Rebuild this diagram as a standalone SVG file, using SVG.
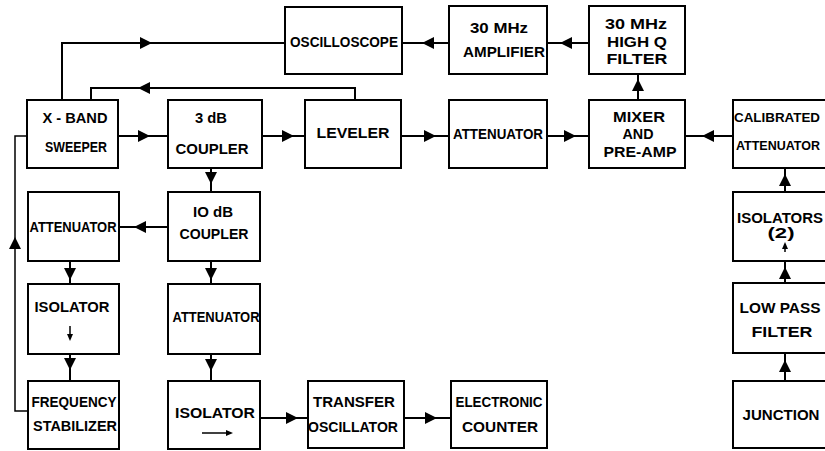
<svg xmlns="http://www.w3.org/2000/svg" width="825" height="451" viewBox="0 0 825 451">
<style>
.box{fill:#fff;stroke:#000;stroke-width:2}
.ln{fill:none;stroke:#000;stroke-width:2}
.ln1{fill:none;stroke:#000;stroke-width:1.5}
text{font-family:"Liberation Sans",Arial,sans-serif;font-weight:bold;font-size:14px;fill:#000;text-anchor:middle}
text.edge{font-size:12.5px;text-anchor:start}
</style>
<defs>
<path id="ah" d="M-6,-6 L6,0 L-6,6 Z" fill="#000"/>
<path id="sah" d="M-4,-3 L3,0 L-4,3 Z" fill="#000"/>
</defs>
<rect width="825" height="451" fill="#fff"/>
<g id="connectors">
<path class="ln" d="M62,100 V43 H285"/>
<path class="ln" d="M402,43 H449"/>
<path class="ln" d="M547,43 H589"/>
<path class="ln" d="M355,100 V88 H91 V100"/>
<path class="ln" d="M118,136 H168 M262,136 H305 M401,136 H449 M547,136 H589 M685,136 H733"/>
<path class="ln" d="M638,100 V74"/>
<path class="ln" d="M211,168 V192"/>
<path class="ln" d="M168,227 H119"/>
<path class="ln1" d="M27,136 H15 V411 H28"/>
<path class="ln" d="M70,261 V284 M70,354 V381 M211,261 V284 M211,354 V381"/>
<path class="ln" d="M260,418 H308 M404,418 H451"/>
<path class="ln" d="M785,168 V192 M785,261 V283 M785,353 V381"/>
<use href="#ah" transform="translate(146,43)"/>
<use href="#ah" transform="translate(428,43) rotate(180)"/>
<use href="#ah" transform="translate(566,43) rotate(180)"/>
<use href="#ah" transform="translate(144,88) rotate(180)"/>
<use href="#ah" transform="translate(144,136)"/>
<use href="#ah" transform="translate(288,136)"/>
<use href="#ah" transform="translate(430,136)"/>
<use href="#ah" transform="translate(570,136)"/>
<use href="#ah" transform="translate(708,136) rotate(180)"/>
<use href="#ah" transform="translate(638,85) rotate(-90)"/>
<use href="#ah" transform="translate(785,180) rotate(-90)"/>
<use href="#ah" transform="translate(785,273) rotate(-90)"/>
<use href="#ah" transform="translate(785,366) rotate(-90)"/>
<use href="#ah" transform="translate(211,178) rotate(90)"/>
<use href="#ah" transform="translate(140,227) rotate(180)"/>
<use href="#ah" transform="translate(15,243) rotate(-90)"/>
<use href="#ah" transform="translate(70,274) rotate(90)"/>
<use href="#ah" transform="translate(70,364) rotate(90)"/>
<use href="#ah" transform="translate(211,274) rotate(90)"/>
<use href="#ah" transform="translate(211,365) rotate(90)"/>
<use href="#ah" transform="translate(292,418)"/>
<use href="#ah" transform="translate(431,418)"/>
</g>
<g id="oscilloscope"><rect class="box" x="285" y="7" width="117" height="67"/><text x="344" y="47" textLength="108" lengthAdjust="spacingAndGlyphs">OSCILLOSCOPE</text></g>
<g id="amplifier"><rect class="box" x="449" y="6" width="98" height="68"/><text x="499" y="33" textLength="58" lengthAdjust="spacingAndGlyphs">30 MHz</text><text x="504" y="57" textLength="82" lengthAdjust="spacingAndGlyphs">AMPLIFIER</text></g>
<g id="filter30"><rect class="box" x="589" y="6" width="96" height="68"/><text x="636" y="29" textLength="62" lengthAdjust="spacingAndGlyphs">30 MHz</text><text x="637" y="47" textLength="60" lengthAdjust="spacingAndGlyphs">HIGH  Q</text><text x="637" y="64" textLength="61" lengthAdjust="spacingAndGlyphs">FILTER</text></g>
<g id="sweeper"><rect class="box" x="27" y="100" width="91" height="68"/><text x="75" y="123" textLength="65" lengthAdjust="spacingAndGlyphs">X - BAND</text><text x="76" y="152" textLength="62" lengthAdjust="spacingAndGlyphs">SWEEPER</text></g>
<g id="coupler3"><rect class="box" x="168" y="100" width="94" height="68"/><text x="211" y="123" textLength="32" lengthAdjust="spacingAndGlyphs">3 dB</text><text x="212" y="154" textLength="73" lengthAdjust="spacingAndGlyphs">COUPLER</text></g>
<g id="leveler"><rect class="box" x="305" y="100" width="96" height="68"/><text x="353" y="138" textLength="73" lengthAdjust="spacingAndGlyphs">LEVELER</text></g>
<g id="attenuator-top"><rect class="box" x="449" y="100" width="98" height="68"/><text x="498" y="139" textLength="90" lengthAdjust="spacingAndGlyphs">ATTENUATOR</text></g>
<g id="mixer"><rect class="box" x="589" y="100" width="96" height="68"/><text x="639" y="122" textLength="52" lengthAdjust="spacingAndGlyphs">MIXER</text><text x="638" y="139" textLength="31" lengthAdjust="spacingAndGlyphs">AND</text><text x="640" y="157" textLength="73" lengthAdjust="spacingAndGlyphs">PRE-AMP</text></g>
<g id="calibrated"><rect class="box" x="733" y="100" width="96" height="68"/><text class="edge" x="734" y="122" textLength="86" lengthAdjust="spacingAndGlyphs">CALIBRATED</text><text class="edge" x="736" y="150" textLength="84" lengthAdjust="spacingAndGlyphs">ATTENUATOR</text></g>
<g id="coupler10"><rect class="box" x="168" y="192" width="92" height="69"/><text x="213" y="217" textLength="40" lengthAdjust="spacingAndGlyphs">IO dB</text><text x="214" y="239" textLength="69" lengthAdjust="spacingAndGlyphs">COUPLER</text></g>
<g id="attenuator-left"><rect class="box" x="28" y="192" width="91" height="69"/><text x="73" y="232" textLength="87" lengthAdjust="spacingAndGlyphs">ATTENUATOR</text></g>
<g id="isolators2"><rect class="box" x="733" y="192" width="96" height="69"/><text x="780" y="223" textLength="86" lengthAdjust="spacingAndGlyphs">ISOLATORS</text><text x="781" y="238" textLength="27" lengthAdjust="spacingAndGlyphs">(2)</text><path class="ln1" d="M785,252 V246"/><use href="#sah" transform="translate(785,245) rotate(-90)"/></g>
<g id="isolator-left"><rect class="box" x="28" y="284" width="91" height="70"/><text x="72" y="312" textLength="75" lengthAdjust="spacingAndGlyphs">ISOLATOR</text><path class="ln1" d="M70,326 V336"/><use href="#sah" transform="translate(70,338) rotate(90)"/></g>
<g id="attenuator-mid"><rect class="box" x="168" y="284" width="92" height="70"/><text x="216" y="322" textLength="87" lengthAdjust="spacingAndGlyphs">ATTENUATOR</text></g>
<g id="lowpass"><rect class="box" x="733" y="283" width="96" height="70"/><text x="780" y="313" textLength="81" lengthAdjust="spacingAndGlyphs">LOW PASS</text><text x="782" y="337" textLength="61" lengthAdjust="spacingAndGlyphs">FILTER</text></g>
<g id="stabilizer"><rect class="box" x="28" y="381" width="91" height="68"/><text x="74" y="407" textLength="85" lengthAdjust="spacingAndGlyphs">FREQUENCY</text><text x="75" y="431" textLength="84" lengthAdjust="spacingAndGlyphs">STABILIZER</text></g>
<g id="isolator-mid"><rect class="box" x="168" y="381" width="92" height="68"/><text x="215" y="418" textLength="80" lengthAdjust="spacingAndGlyphs">ISOLATOR</text><path class="ln1" d="M202,433 H228"/><use href="#sah" transform="translate(230,433)"/></g>
<g id="transfer"><rect class="box" x="308" y="381" width="96" height="67"/><text x="354" y="407" textLength="82" lengthAdjust="spacingAndGlyphs">TRANSFER</text><text x="353" y="432" textLength="90" lengthAdjust="spacingAndGlyphs">OSCILLATOR</text></g>
<g id="counter"><rect class="box" x="451" y="381" width="96" height="67"/><text x="499" y="407" textLength="87" lengthAdjust="spacingAndGlyphs">ELECTRONIC</text><text x="500" y="432" textLength="76" lengthAdjust="spacingAndGlyphs">COUNTER</text></g>
<g id="junction"><rect class="box" x="733" y="381" width="96" height="67"/><text x="781" y="420" textLength="77" lengthAdjust="spacingAndGlyphs">JUNCTION</text></g>
</svg>
